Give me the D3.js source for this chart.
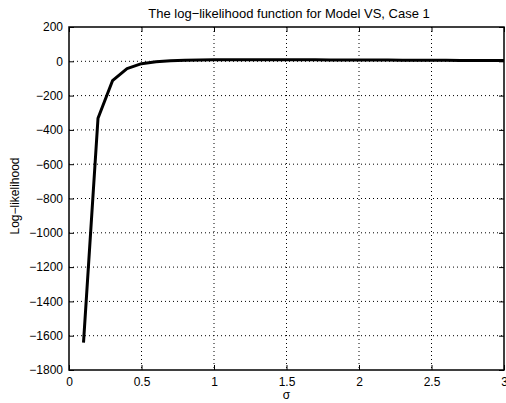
<!DOCTYPE html>
<html><head><meta charset="utf-8">
<script src="https://cdn.jsdelivr.net/npm/d3@7"></script>
<style>
body{margin:0;background:#fff;}
text{font-family:"Liberation Sans",Arial,Helvetica,sans-serif;}
</style></head>
<body><svg id="c" width="506" height="403"></svg>
<script>
const sigma = [0.1,0.2,0.3,0.4,0.5,0.6,0.7,0.8,0.9,1.0,1.1,1.2,1.3,1.4,1.5,1.6,1.7,1.8,1.9,2.0,2.1,2.2,2.3,2.4,2.5,2.6,2.7,2.8,2.9,3.0];
const logLik = [-1640,-332,-113,-43,-14,-3,3,6,8,9,9.5,9.5,9.5,9,9,9,8.5,8,8,7.5,7,7,6.5,6,6,5.5,5,5,4.5,4];
const xTicks = [0,0.5,1,1.5,2,2.5,3];
const xTickLabels = ["0","0.5","1","1.5","2","2.5","3"];
const yTicks = [200,0,-200,-400,-600,-800,-1000,-1200,-1400,-1600,-1800];
const title = "The log\u2212likelihood function for Model VS, Case 1";
const xLabel = "\u03c3";
const yLabel = "Log\u2212likelihood";

const svg = d3.select("#c");
const L=69, R=504, T=27, B=370;
const x = d3.scaleLinear().domain([0,3]).range([L,R]);
const y = d3.scaleLinear().domain([-1800,200]).range([B,T]);
const fs = 12;

// grid
const g = svg.append("g");
g.selectAll(".gx").data(xTicks.slice(1,-1)).enter().append("line")
  .attr("x1",d=>x(d)).attr("x2",d=>x(d)).attr("y1",T).attr("y2",B)
  .attr("stroke","#000").attr("stroke-width",1).attr("stroke-dasharray","1,3");
g.selectAll(".gy").data(yTicks.slice(1,-1)).enter().append("line")
  .attr("y1",d=>y(d)).attr("y2",d=>y(d)).attr("x1",L).attr("x2",R)
  .attr("stroke","#000").attr("stroke-width",1).attr("stroke-dasharray","1,3");

// axes
const fmtY = d => d<0 ? "\u2212"+Math.abs(d) : String(d);
const ax = svg.append("g").attr("transform",`translate(0,${B})`)
  .call(d3.axisBottom(x).tickValues(xTicks).tickFormat((d,i)=>xTickLabels[i]).tickSizeInner(-5).tickSizeOuter(0).tickPadding(7));
const ay = svg.append("g").attr("transform",`translate(${L},0)`)
  .call(d3.axisLeft(y).tickValues(yTicks).tickFormat(fmtY).tickSizeInner(-5).tickSizeOuter(0).tickPadding(6));
const at = svg.append("g").attr("transform",`translate(0,${T})`)
  .call(d3.axisTop(x).tickValues(xTicks).tickFormat("").tickSizeInner(-5).tickSizeOuter(0));
const ar = svg.append("g").attr("transform",`translate(${R},0)`)
  .call(d3.axisRight(y).tickValues(yTicks).tickFormat("").tickSizeInner(-5).tickSizeOuter(0));
[ax,ay,at,ar].forEach(a=>{
  a.select(".domain").remove();
  a.selectAll("line").attr("stroke","#000");
  a.selectAll("text").attr("font-size",fs).attr("fill","#000").attr("font-family","Liberation Sans, Arial, sans-serif");
});
svg.append("rect").attr("x",L).attr("y",T).attr("width",R-L).attr("height",B-T)
  .attr("fill","none").attr("stroke","#000").attr("stroke-width",1.5);

// line
svg.append("path").datum(sigma.map((s,i)=>[s,logLik[i]]))
  .attr("d",d3.line().x(d=>x(d[0])).y(d=>y(d[1])))
  .attr("fill","none").attr("stroke","#000").attr("stroke-width",3).attr("stroke-linejoin","round");

// labels
svg.append("text").attr("x",289).attr("y",17.5).attr("text-anchor","middle").attr("font-size",13).text(title);
svg.append("text").attr("x",(L+R)/2).attr("y",399).attr("text-anchor","middle").attr("font-size",12).text(xLabel);
svg.append("text").attr("transform",`translate(19,196) rotate(-90)`).attr("text-anchor","middle").attr("font-size",12).text(yLabel);
</script></body></html>
